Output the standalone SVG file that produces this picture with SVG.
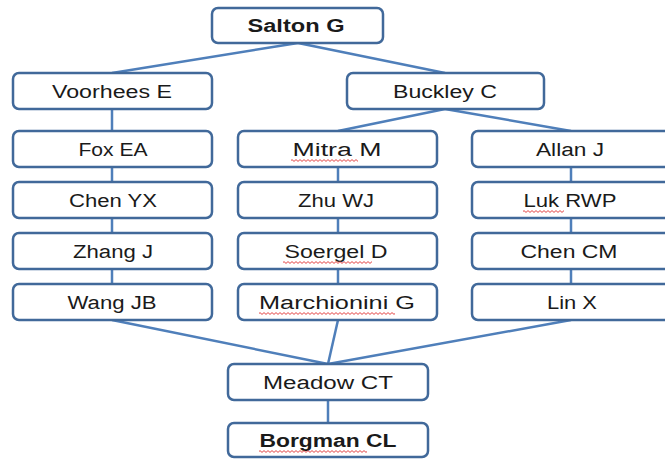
<svg xmlns="http://www.w3.org/2000/svg" width="665" height="459" viewBox="0 0 665 459">
<style>
.box{fill:#ffffff;stroke:#41699A;stroke-width:2.5}
.t{font-family:"Liberation Sans",Arial,sans-serif;font-size:18px;fill:#1a1a1a;text-anchor:middle}
.b{font-weight:bold}
.c{stroke:#4F7FBA;stroke-width:2.5;fill:none}
.sq{fill:url(#sq)}
</style>
<defs>
<pattern id="sq" width="4" height="3" patternUnits="userSpaceOnUse">
<path d="M0,0.6 L2,2.4 L4,0.6" stroke="#e03030" stroke-width="0.9" fill="none"/>
</pattern>
</defs>
<rect width="665" height="459" fill="#ffffff"/>
<g id="connectors">
<line class="c" x1="298" y1="43" x2="112" y2="73"/>
<line class="c" x1="298" y1="43" x2="445" y2="73"/>
<line class="c" x1="445" y1="109" x2="338" y2="131"/>
<line class="c" x1="445" y1="109" x2="571" y2="131"/>
<line class="c" x1="112" y1="109" x2="112" y2="131"/>
<line class="c" x1="112" y1="167" x2="112" y2="182"/>
<line class="c" x1="112" y1="218" x2="112" y2="233"/>
<line class="c" x1="112" y1="269" x2="112" y2="284"/>
<line class="c" x1="338" y1="167" x2="338" y2="182"/>
<line class="c" x1="338" y1="218" x2="338" y2="233"/>
<line class="c" x1="338" y1="269" x2="338" y2="284"/>
<line class="c" x1="571" y1="167" x2="571" y2="182"/>
<line class="c" x1="571" y1="218" x2="571" y2="233"/>
<line class="c" x1="571" y1="269" x2="571" y2="284"/>
<line class="c" x1="112" y1="320" x2="328" y2="364"/>
<line class="c" x1="338" y1="320" x2="328" y2="364"/>
<line class="c" x1="571" y1="320" x2="328" y2="364"/>
<line class="c" x1="328" y1="400" x2="328" y2="423"/>
</g>
<g id="salton"><rect class="box" x="212" y="8" width="171" height="35" rx="6"/><text class="t b" x="296" y="32" textLength="97" lengthAdjust="spacingAndGlyphs">Salton G</text></g>
<g id="voorhees"><rect class="box" x="13" y="73" width="199" height="36" rx="6"/><text class="t" x="112" y="98" textLength="120" lengthAdjust="spacingAndGlyphs">Voorhees E</text></g>
<g id="buckley"><rect class="box" x="347" y="73" width="197" height="36" rx="6"/><text class="t" x="445" y="98" textLength="104" lengthAdjust="spacingAndGlyphs">Buckley C</text></g>
<g id="fox"><rect class="box" x="13" y="131" width="199" height="36" rx="6"/><text class="t" x="113" y="156" textLength="69" lengthAdjust="spacingAndGlyphs">Fox EA</text></g>
<g id="mitra"><rect class="box" x="238" y="131" width="199" height="36" rx="6"/><text class="t" x="337" y="156" textLength="89" lengthAdjust="spacingAndGlyphs">Mitra M</text><rect class="sq" x="291" y="159" width="67" height="3"/></g>
<g id="allan"><rect class="box" x="472" y="131" width="198" height="36" rx="6"/><text class="t" x="570" y="156" textLength="68" lengthAdjust="spacingAndGlyphs">Allan J</text></g>
<g id="chenyx"><rect class="box" x="13" y="182" width="199" height="36" rx="6"/><text class="t" x="113" y="207" textLength="88" lengthAdjust="spacingAndGlyphs">Chen YX</text></g>
<g id="zhuwj"><rect class="box" x="238" y="182" width="199" height="36" rx="6"/><text class="t" x="336" y="207" textLength="76" lengthAdjust="spacingAndGlyphs">Zhu WJ</text></g>
<g id="luk"><rect class="box" x="472" y="182" width="198" height="36" rx="6"/><text class="t" x="570" y="207" textLength="93" lengthAdjust="spacingAndGlyphs">Luk RWP</text><rect class="sq" x="523" y="210" width="41" height="3"/></g>
<g id="zhangj"><rect class="box" x="13" y="233" width="199" height="36" rx="6"/><text class="t" x="113" y="258" textLength="80" lengthAdjust="spacingAndGlyphs">Zhang J</text></g>
<g id="soergel"><rect class="box" x="238" y="233" width="199" height="36" rx="6"/><text class="t" x="336" y="258" textLength="103" lengthAdjust="spacingAndGlyphs">Soergel D</text><rect class="sq" x="283" y="261" width="89" height="3"/></g>
<g id="chencm"><rect class="box" x="472" y="233" width="198" height="36" rx="6"/><text class="t" x="569" y="258" textLength="97" lengthAdjust="spacingAndGlyphs">Chen CM</text></g>
<g id="wangjb"><rect class="box" x="13" y="284" width="199" height="36" rx="6"/><text class="t" x="112" y="309" textLength="89" lengthAdjust="spacingAndGlyphs">Wang JB</text></g>
<g id="marchionini"><rect class="box" x="238" y="284" width="199" height="36" rx="6"/><text class="t" x="337" y="309" textLength="156" lengthAdjust="spacingAndGlyphs">Marchionini G</text><rect class="sq" x="259" y="312" width="136" height="3"/></g>
<g id="linx"><rect class="box" x="472" y="284" width="198" height="36" rx="6"/><text class="t" x="572" y="309" textLength="50" lengthAdjust="spacingAndGlyphs">Lin X</text></g>
<g id="meadow"><rect class="box" x="228" y="364" width="200" height="36" rx="6"/><text class="t" x="328" y="389" textLength="130" lengthAdjust="spacingAndGlyphs">Meadow CT</text></g>
<g id="borgman"><rect class="box" x="228" y="423" width="200" height="34" rx="6"/><text class="t b" x="328" y="447" textLength="137" lengthAdjust="spacingAndGlyphs">Borgman CL</text><rect class="sq" x="259" y="450" width="108" height="3"/></g>
</svg>
